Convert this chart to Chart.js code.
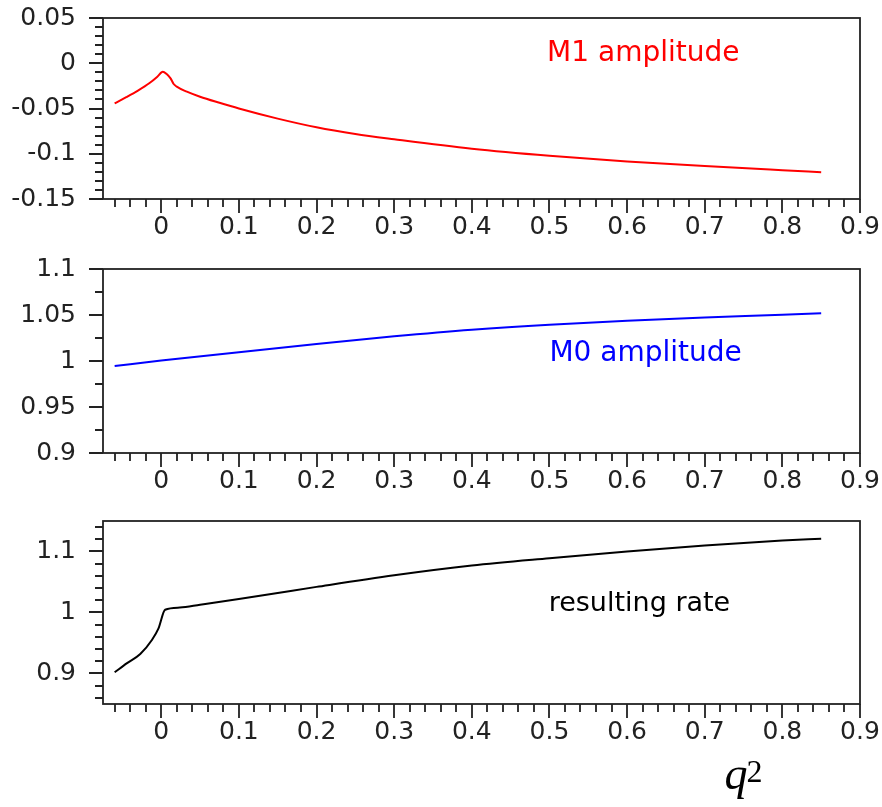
<!DOCTYPE html>
<html>
<head>
<meta charset="utf-8">
<script src="https://cdn.jsdelivr.net/npm/chart.js@4.4.0/dist/chart.umd.min.js"></script>
<style>
  body { margin: 0; background: #fff; }
  canvas { position: absolute; left: 0; }
</style>
</head>
<body>
<canvas id="c1" width="882" height="250" style="top:0"></canvas>
<canvas id="c2" width="882" height="250" style="top:250px"></canvas>
<canvas id="c3" width="882" height="307" style="top:500px"></canvas>
<script>
// M1 amplitude vs q^2
var m1Q   = [-0.06, -0.045, -0.03, -0.015, -0.005, 0.002, 0.007, 0.012, 0.016, 0.02, 0.033, 0.05, 0.075, 0.1, 0.15, 0.2, 0.25, 0.3, 0.4, 0.5, 0.6, 0.7, 0.8, 0.85];
var m1Amp = [-0.0443, -0.0375, -0.0302, -0.0218, -0.0148, -0.0093, -0.0119, -0.0167, -0.0229, -0.0259, -0.0314, -0.037, -0.0437, -0.05, -0.0612, -0.0708, -0.0782, -0.084, -0.0945, -0.1023, -0.1085, -0.1135, -0.1182, -0.1205];

// M0 amplitude vs q^2
var m0Q   = [-0.06, 0, 0.1, 0.2, 0.3, 0.4, 0.5, 0.6, 0.7, 0.8, 0.85];
var m0Amp = [0.9945, 1.0005, 1.0095, 1.0185, 1.0268, 1.034, 1.0395, 1.0437, 1.0472, 1.0503, 1.052];

// resulting rate vs q^2
var rateQ   = [-0.06, -0.044, -0.027, -0.012, -0.0035, 0.005, 0.024, 0.05, 0.1, 0.15, 0.2, 0.3, 0.4, 0.5, 0.6, 0.7, 0.8, 0.85];
var rateVal = [0.902, 0.917, 0.932, 0.955, 0.974, 1.0045, 1.008, 1.0127, 1.022, 1.032, 1.042, 1.061, 1.077, 1.089, 1.1, 1.11, 1.118, 1.121];

// tick labels
var qTicks    = [0, 0.1, 0.2, 0.3, 0.4, 0.5, 0.6, 0.7, 0.8, 0.9];
var m1Ticks   = [-0.15, -0.1, -0.05, 0, 0.05];
var m0Ticks   = [0.9, 0.95, 1, 1.05, 1.1];
var rateTicks = [0.9, 1, 1.1];

var tickFont = { family: 'DejaVu Sans', size: 25 };

function pts(xs, ys) {
  return xs.map(function (x, i) { return { x: x, y: ys[i] }; });
}

// positions of tick marks between min and max
function marks(min, max, step, major) {
  var out = [];
  for (var i = Math.ceil(min / step - 1e-9); i <= Math.floor(max / step + 1e-9); i++) {
    var v = i * step;
    var r = v / major;
    out.push({ v: v, major: Math.abs(r - Math.round(r)) < 1e-6 });
  }
  return out;
}

// box, outward ticks, note text
var frame = {
  id: 'frame',
  afterDraw: function (chart, args, o) {
    var ctx = chart.ctx, a = chart.chartArea, xs = chart.scales.x, ys = chart.scales.y;
    ctx.save();
    ctx.strokeStyle = '#222';
    ctx.lineWidth = 1.8;
    ctx.strokeRect(a.left, a.top, a.right - a.left, a.bottom - a.top);
    ctx.beginPath();
    marks(xs.min, xs.max, 0.02, 0.1).forEach(function (m) {
      var p = Math.round(xs.getPixelForValue(m.v));
      ctx.moveTo(p, a.bottom);
      ctx.lineTo(p, a.bottom + (m.major ? 14 : 8));
    });
    marks(ys.min, ys.max, o.minor, o.major).forEach(function (m) {
      var p = Math.round(ys.getPixelForValue(m.v));
      ctx.moveTo(a.left, p);
      ctx.lineTo(a.left - (m.major ? 14 : 8), p);
    });
    ctx.stroke();

    ctx.font = o.noteSize + 'px "DejaVu Sans"';
    ctx.fillStyle = o.color;
    ctx.textAlign = 'left';
    ctx.textBaseline = 'middle';
    ctx.fillText(o.note, xs.getPixelForValue(o.noteAt[0]), ys.getPixelForValue(o.noteAt[1]));

    if (o.axisTitle) {
      var qx = xs.getPixelForValue(0.75) - 19;
      ctx.fillStyle = '#000';
      ctx.textBaseline = 'alphabetic';
      ctx.font = 'italic 46px "Liberation Serif"';
      ctx.fillText('q', qx, chart.height - 18);
      ctx.font = '32px "Liberation Serif"';
      ctx.fillText('2', qx + 22, chart.height - 25);
    }
    ctx.restore();
  }
};

function panel(id, q, vals, color, yMin, yMax, yTicks, top, xHeight, fr) {
  return new Chart(document.getElementById(id), {
    type: 'line',
    data: {
      datasets: [{
        data: pts(q, vals),
        borderColor: color,
        borderWidth: 2,
        pointRadius: 0,
        cubicInterpolationMode: 'monotone',
        fill: false
      }]
    },
    options: {
      responsive: false,
      animation: false,
      layout: { padding: { top: top, right: 22, left: 0, bottom: 0 } },
      plugins: { legend: { display: false }, tooltip: { enabled: false }, frame: fr },
      scales: {
        x: {
          type: 'linear', min: -0.075, max: 0.9,
          grid: { display: false, drawTicks: true, tickLength: 13 },
          border: { display: false },
          afterBuildTicks: function (s) { s.ticks = qTicks.map(function (v) { return { value: v }; }); },
          afterFit: function (s) { s.height = xHeight; },
          ticks: {
            font: tickFont, color: '#222', padding: 0, maxRotation: 0, autoSkip: false,
            callback: function (v) { return String(Math.round(v * 1000) / 1000); }
          }
        },
        y: {
          min: yMin, max: yMax,
          grid: { display: false, drawTicks: true, tickLength: 27 },
          border: { display: false },
          afterBuildTicks: function (s) { s.ticks = yTicks.map(function (v) { return { value: v }; }); },
          afterFit: function (s) { s.width = 103; },
          ticks: {
            font: tickFont, color: '#222', padding: 0, autoSkip: false,
            callback: function (v) { return String(Math.round(v * 1000) / 1000); }
          }
        }
      }
    },
    plugins: [frame]
  });
}

panel('c1', m1Q, m1Amp, '#ff0000', -0.15, 0.05, m1Ticks, 18, 51,
  { minor: 0.01, major: 0.05, note: 'M1 amplitude', noteSize: 28, noteAt: [0.497, 0.0103], color: '#ff0000' });
panel('c2', m0Q, m0Amp, '#0000ff', 0.9, 1.1, m0Ticks, 19, 47,
  { minor: 0.025, major: 0.05, note: 'M0 amplitude', noteSize: 28, noteAt: [0.5, 1.0076], color: '#0000ff' });
panel('c3', rateQ, rateVal, '#000000', 0.85, 1.15, rateTicks, 21, 103,
  { minor: 0.02, major: 0.1, note: 'resulting rate', noteSize: 27, noteAt: [0.499, 1.0146], color: '#000000', axisTitle: true });
</script>
</body>
</html>
